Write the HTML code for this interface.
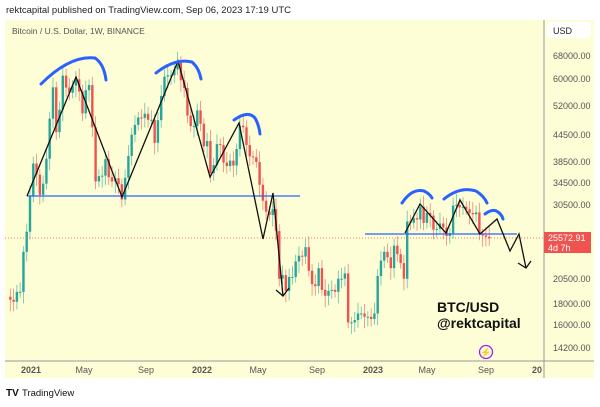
<!DOCTYPE html>
<html><head><meta charset="utf-8"><style>
body{margin:0;width:600px;height:402px;background:#fff;overflow:hidden;font-family:"Liberation Sans",sans-serif}
</style></head><body>
<svg id="s" width="600" height="402" xmlns="http://www.w3.org/2000/svg" font-family="Liberation Sans, sans-serif">
<text x="6" y="13" font-size="9.5" fill="#222">rektcapital published on TradingView.com, Sep 06, 2023 17:19 UTC</text>
<rect x="5" y="20" width="589" height="358" fill="#fdfdd6"/>
<text x="12" y="34" font-size="8.5" fill="#555">Bitcoin / U.S. Dollar, 1W, BINANCE</text>
<line x1="544" y1="20" x2="544" y2="378" stroke="#999" stroke-width="1"/>
<line x1="5" y1="361" x2="594" y2="361" stroke="#999" stroke-width="1"/>
<rect x="547" y="22" width="44" height="16" rx="3" fill="#fff"/>
<text x="553" y="34" font-size="9" fill="#222">USD</text>
<g id="c"></g>
<line x1="5" y1="238" x2="544" y2="238" stroke="#ef5350" stroke-width="0.8" stroke-dasharray="1,2"/>
<line x1="27" y1="196" x2="300" y2="196" stroke="#2962ff" stroke-width="1.3"/>
<line x1="365" y1="234" x2="517" y2="234" stroke="#2962ff" stroke-width="1.3"/>
<g fill="none" stroke="#111" stroke-width="1.3">
<polyline points="27,196 76,77 122,197 178,61 210,177 239,123 263,239 273,193 283,296"/>
<polyline points="276,290 283,296 289,288"/>
<polyline points="405,233 420,204 446,233 460,200 480,234 497,219 510,251 519,234 526,268"/>
<polyline points="518,263 526,268 531,261"/>
</g>
<g fill="none" stroke="#2962ff" stroke-width="3" stroke-linecap="round">
<path d="M41,84 Q70,55 95,58 Q104,64 106,80"/>
<path d="M156,73 Q175,58 192,62 Q199,68 201,79"/>
<path d="M234,120 Q248,110 255,118 Q259,125 260,134"/>
<path d="M402,203 Q412,188 424,191 Q430,194 432,198"/>
<path d="M444,199 Q460,186 476,191 Q484,196 487,203"/>
<path d="M485,214 Q493,208 498,212 Q502,215 503,219"/>
</g>
<g font-size="9" fill="#555">
<text x="553" y="59">68000.00</text><text x="553" y="82">60000.00</text><text x="553" y="109">52000.00</text>
<text x="553" y="138">44500.00</text><text x="553" y="165">38500.00</text><text x="553" y="186">34500.00</text>
<text x="553" y="208">30500.00</text><text x="553" y="282">20500.00</text><text x="553" y="307">18000.00</text>
<text x="553" y="328">16000.00</text><text x="553" y="351">14200.00</text>
</g>
<rect x="544" y="232" width="47" height="21" fill="#ef5350"/>
<text x="548" y="241" font-size="9" fill="#fff">25572.91</text>
<text x="548" y="251" font-size="9" fill="#fff">4d 7h</text>
<g font-size="9" fill="#555" text-anchor="middle">
<text x="31" y="373" font-weight="bold">2021</text><text x="84" y="373">May</text><text x="146" y="373">Sep</text>
<text x="202" y="373" font-weight="bold">2022</text><text x="258" y="373">May</text><text x="317" y="373">Sep</text>
<text x="373" y="373" font-weight="bold">2023</text><text x="427" y="373">May</text><text x="486" y="373">Sep</text>
<text x="537" y="373" font-weight="bold">20</text>
</g>
<text x="437" y="312" font-size="14" font-weight="bold" fill="#111">BTC/USD</text>
<text x="437" y="328" font-size="14" font-weight="bold" fill="#111">@rektcapital</text>
<circle cx="486" cy="352" r="6.5" fill="none" stroke="#a020f0" stroke-width="1.3"/>
<text x="486" y="355.5" font-size="9" fill="#a020f0" text-anchor="middle">⚡</text>
<text x="6" y="396" font-size="10" font-weight="bold" fill="#111">TV</text>
<text x="22" y="396" font-size="9.5" fill="#111">TradingView</text>
</svg>
<script>
var c=[18700,18400,18200,19200,19200,23800,26500,32000,38200,36000,32300,34300,39200,48600,57500,45200,51000,61200,57400,55800,58000,60000,56200,50000,56600,58200,46400,34700,35700,35800,39100,35500,34700,35300,34200,31500,35400,39800,44600,47000,48900,48800,49900,48300,48300,42700,48200,54900,60900,61300,61300,63300,65500,59700,57300,49400,46700,46700,50800,47300,41900,43100,36300,37900,42400,42200,38400,37700,38800,37800,41300,46800,46400,42200,39700,39500,38500,34100,31300,29500,29000,29900,26600,20600,21000,19300,20800,20800,22600,23300,23200,24400,21500,20000,19800,21800,19400,18800,19300,19400,19200,20600,20600,21200,16300,16300,16500,17100,17100,16800,16800,16600,17100,20900,22700,23800,23100,21800,24600,23500,22400,20600,28000,27800,28500,28300,30300,27800,29300,28900,26800,26900,27700,27100,25900,26300,30500,30600,30200,30300,29900,29300,29100,29400,26100,26000,25800,25572];
function y(p){return 56+186.5*Math.log(68000/p);}
var g=document.getElementById('c'),h='';
for(var i=1;i<c.length;i++){var o=c[i-1],cl=c[i],x=30+(i-7)*3.28;
var hi=Math.max(o,cl)*(1.03+0.03*((i*7)%5)/4),lo=Math.min(o,cl)*(0.97-0.03*((i*3)%4)/3);
var col=cl>=o?'#26a69a':'#ef5350';
h+='<line x1="'+x+'" x2="'+x+'" y1="'+y(hi)+'" y2="'+y(lo)+'" stroke="'+col+'" stroke-width="0.8" opacity="0.7"/>';
var t=y(Math.max(o,cl)),b=y(Math.min(o,cl));
h+='<rect x="'+(x-1.2)+'" y="'+t+'" width="2.4" height="'+Math.max(1,b-t)+'" fill="'+col+'"/>';}
g.innerHTML=h;
</script>
</body></html>
